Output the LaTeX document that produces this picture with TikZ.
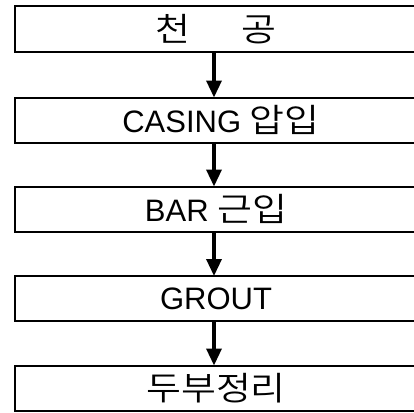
\documentclass[tikz,border=0pt]{standalone}
\usepackage{fontspec}
\setmainfont{Liberation Sans}
\newfontfamily\krfont{Noto Sans CJK KR}[UprightFont={* DemiLight},FakeStretch=1.15]
\newcommand\kor[1]{{\krfont\fontsize{33pt}{36pt}\selectfont #1}}
\usetikzlibrary{arrows.meta}
\begin{document}
\begin{tikzpicture}[x=1pt,y=-1pt,
  stepbox/.style={draw, line width=2pt, rectangle, inner sep=0pt, outer sep=0pt,
    minimum width=402pt, minimum height=45pt, font=\fontsize{31pt}{36pt}\selectfont},
  flow/.style={line width=3.4pt, -{Triangle[length=17pt,width=15pt]}}]
\useasboundingbox (0,0) rectangle (414,412);
\clip (0,0) rectangle (414,412);
\node[stepbox] (b1) at (216,29) {\kor{천\hspace{52pt}공}};
\node[stepbox] (b2) at (216,120) {\hspace{10pt}CASING \kor{압입}};
\node[stepbox] (b3) at (216,209) {BAR \kor{근입}};
\node[stepbox] (b4) at (216,298.5) {GROUT};
\node[stepbox] (b5) at (216,388) {\kor{두부정리}};
\draw[flow] ([xshift=-2pt]b1.south) -- ([xshift=-2pt]b2.north);
\draw[flow] ([xshift=-2pt]b2.south) -- ([xshift=-2pt]b3.north);
\draw[flow] ([xshift=-2pt]b3.south) -- ([xshift=-2pt]b4.north);
\draw[flow] ([xshift=-2pt]b4.south) -- ([xshift=-2pt]b5.north);
\end{tikzpicture}
\end{document}
